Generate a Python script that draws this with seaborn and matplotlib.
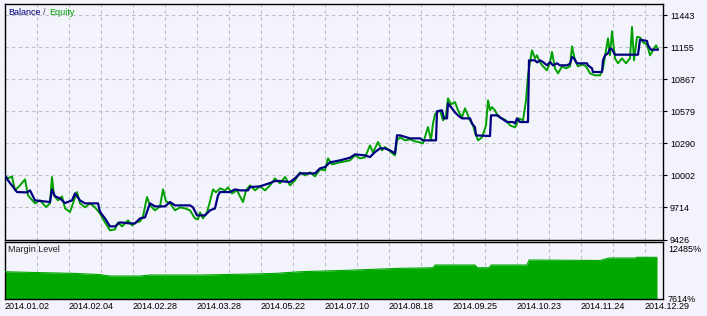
import matplotlib
matplotlib.use("Agg")
import matplotlib.pyplot as plt
import seaborn as sns
import pandas as pd

# ---------------- data ----------------
bal_trade = [0, 1.5, 6, 11, 12.5, 15, 22.5, 23.5, 25, 27.5, 30, 33.5, 35, 37.5, 40, 46.5, 47.5, 50,
             52.5, 55, 57.5, 62.5, 65, 67.5, 70, 72.5, 75, 80, 82.5, 85, 92.5, 94, 96, 100, 102.5, 105,
             106.5, 107.5, 112.5, 115, 117.5, 121.5, 122.5, 127.5, 132.5, 135, 137.5, 142.5, 145, 147.5,
             155, 157.5, 160, 162.5, 167.5, 172.5, 175, 180, 182.5, 185, 187.5, 190, 192.5, 195, 196,
             197.5, 202.5, 207.5, 209, 215.5, 216, 218.5, 219.5, 221, 221.5, 223.5, 225, 226.5, 228.5,
             232.5, 233.5, 235, 235.5, 242.5, 243, 246.5, 247.5, 249, 251, 254, 255, 256, 257.5, 261.5,
             262, 265, 266, 267.5, 269, 271, 272.5, 274, 276, 277.5, 281, 282.5, 283.5, 284.5, 286, 291,
             291.5, 293.5, 294, 298.5, 299, 300, 301.5, 302.5, 303.5, 305, 316.5, 317.5, 321, 321.5, 323,
             326.5]
bal_value = [10000, 9958, 9853, 9850, 9868, 9778, 9763, 9877, 9814, 9796, 9754, 9778, 9841, 9778, 9751,
             9751, 9673, 9616, 9544, 9544, 9580, 9571, 9571, 9616, 9625, 9751, 9724, 9724, 9763, 9733,
             9733, 9715, 9643, 9643, 9688, 9706, 9823, 9853, 9853, 9877, 9868, 9868, 9898, 9904, 9934,
             9952, 9952, 9943, 9976, 10021, 10021, 10066, 10078, 10120, 10138, 10162, 10192, 10183,
             10168, 10213, 10246, 10246, 10228, 10201, 10363, 10363, 10336, 10336, 10318, 10318, 10579,
             10588, 10516, 10516, 10651, 10606, 10570, 10543, 10516, 10516, 10471, 10435, 10363, 10357,
             10543, 10543, 10525, 10507, 10483, 10483, 10471, 10516, 10483, 10483, 11038, 11038, 11020,
             11038, 11023, 10993, 11023, 10993, 11011, 10993, 10993, 11008, 11068, 11056, 11011, 11011,
             10993, 10966, 10933, 10933, 11038, 11083, 11101, 11146, 11137, 11089, 11089, 11224, 11212,
             11173, 11134, 11134]

eq_trade = [0, 1.5, 3.5, 5, 7.5, 10, 11.5, 15, 17.5, 20.5, 22.5, 23.5, 24.5, 26.5, 28.5, 30, 32.5, 34.5,
            36, 37.5, 40, 42.5, 45, 47.5, 50, 52.5, 55, 56.5, 58.5, 61.5, 63.5, 65.5, 67.5, 69, 71, 72.5,
            75, 77.5, 79, 80.5, 82.5, 85, 87.5, 90, 92.5, 95, 96.5, 97.5, 99, 101, 102.5, 104, 105.5,
            107.5, 110, 111.5, 113.5, 116, 117.5, 119, 120.5, 122.5, 125, 127.5, 130, 132.5, 135, 137.5,
            140, 142.5, 145, 147.5, 150, 152.5, 155, 157.5, 160, 161.5, 163.5, 167.5, 170, 172.5, 175,
            177.5, 180, 182.5, 184, 186.5, 188.5, 190, 192.5, 195, 196, 197.5, 200, 202.5, 205, 207.5,
            209, 211.5, 213, 214, 215, 216, 217.5, 219, 220.5, 221.5, 223, 225, 226.5, 228.5, 230, 231.5,
            232.5, 234, 235, 236.5, 238.5, 240.5, 241.5, 242.5, 243.5, 245, 246.5, 248.5, 250.5, 252.5,
            255, 257, 259, 260.5, 261.5, 262.5, 263.5, 265, 266, 267.5, 269, 271, 272.5, 273.5, 275,
            276.5, 278.5, 280.5, 282.5, 283.5, 285, 286.5, 288.5, 290.5, 292.5, 295, 297.5, 299, 300.5,
            301.5, 302.5, 303.5, 305, 306.5, 308.5, 310.5, 312.5, 313.5, 314.5, 316, 317.5, 319, 321,
            322.5, 324, 325.5, 326.5]
eq_value = [10000, 9976, 9994, 9868, 9913, 9967, 9823, 9751, 9778, 9718, 9751, 9988, 9823, 9778, 9814,
            9706, 9673, 9778, 9853, 9751, 9715, 9751, 9715, 9661, 9580, 9508, 9517, 9580, 9544, 9598,
            9553, 9580, 9589, 9634, 9808, 9733, 9688, 9724, 9877, 9769, 9751, 9688, 9715, 9706, 9688,
            9616, 9607, 9670, 9616, 9670, 9769, 9877, 9850, 9886, 9868, 9895, 9841, 9868, 9814, 9763,
            9868, 9913, 9868, 9904, 9868, 9913, 9976, 9931, 9988, 9913, 9958, 10030, 10003, 10030, 9994,
            10057, 10048, 10156, 10102, 10120, 10129, 10138, 10183, 10156, 10165, 10273, 10210, 10303,
            10228, 10258, 10219, 10183, 10318, 10345, 10318, 10327, 10309, 10300, 10291, 10438, 10318,
            10471, 10552, 10570, 10588, 10498, 10543, 10696, 10642, 10663, 10588, 10525, 10606, 10543,
            10498, 10453, 10390, 10318, 10345, 10453, 10678, 10588, 10618, 10588, 10534, 10516, 10498,
            10453, 10435, 10516, 10498, 10678, 10903, 11020, 11128, 11056, 11083, 11020, 10984, 10948,
            11020, 11113, 10966, 10921, 10984, 10966, 10984, 11164, 11038, 10984, 11002, 10984, 10921,
            10903, 10903, 10966, 11128, 11236, 11083, 11299, 11056, 11011, 11056, 11011, 11056, 11338,
            11038, 11248, 11245, 11200, 11182, 11083, 11128, 11173, 11137]

margin_trade = [0, 10, 20, 35, 47.5, 52.5, 67.5, 72.5, 97.5, 115, 135, 147.5, 170, 197.5, 210, 214,
                215, 235, 236, 242, 243, 261, 262, 297.5, 302, 315, 316, 326]
margin_value = [9947, 9900, 9860, 9800, 9700, 9579, 9579, 9665, 9665, 9720, 9800, 9947, 10060, 10237,
                10270, 10290, 10519, 10519, 10289, 10289, 10519, 10519, 10947, 10904, 11118, 11118,
                11177, 11177]

equity_ticks = [9426, 9714, 10002, 10290, 10579, 10867, 11155, 11443]
margin_ticks = [7614, 12485]
date_positions = [0, 32, 64, 96, 128, 160, 192, 224, 256, 288, 320]
date_labels = ["2014.01.02", "2014.02.04", "2014.02.28", "2014.03.28", "2014.05.22", "2014.07.10",
               "2014.08.18", "2014.09.25", "2014.10.23", "2014.11.24", "2014.12.29"]

# ---------------- style ----------------
sns.set_theme(style="white")
plt.rcParams["font.family"] = ["Liberation Sans", "DejaVu Sans"]
BG = "#F3F3FC"
NAVY = "#000080"
GREEN = "#00A000"
GRID = "#BDBDC8"
FS = 6.5

W, H = 707, 316
fig = plt.figure(figsize=(W / 100, H / 100), dpi=100, facecolor=BG)

left = 5 / W
width = 658 / W
ax = fig.add_axes([left, (H - 239.5) / H, width, 235.5 / H])
axm = fig.add_axes([left, (H - 299) / H, width, 57 / H])

xmax = 329
grid_x = list(range(0, 321, 16))

for a in (ax, axm):
    a.set_facecolor(BG)
    for s in a.spines.values():
        s.set_color("black")
        s.set_linewidth(1.0)
    a.set_xlim(0, xmax)
    a.set_axisbelow(True)
    for gx in grid_x:
        a.axvline(gx, color=GRID, lw=0.8, ls=(0, (3, 3)), zorder=0)

# main panel
bal_df = pd.DataFrame({"trade": bal_trade, "value": bal_value})
eq_df = pd.DataFrame({"trade": eq_trade, "value": eq_value})
sns.lineplot(data=eq_df, x="trade", y="value", ax=ax, color=GREEN, lw=1.4,
             estimator=None, sort=False, zorder=3)
sns.lineplot(data=bal_df, x="trade", y="value", ax=ax, color=NAVY, lw=1.6,
             estimator=None, sort=False, zorder=4)
ax.set_ylim(9426, 11545)
for gy in equity_ticks[1:]:
    ax.axhline(gy, color=GRID, lw=0.8, ls=(0, (3, 3)), zorder=0)
ax.yaxis.tick_right()
ax.set_yticks(equity_ticks)
ax.set_yticklabels([str(v) for v in equity_ticks], fontsize=FS, color="black")
ax.tick_params(axis="y", which="both", right=True, left=False, length=3, width=0.8,
               pad=2, colors="black")
ax.set_xticks([])
ax.set_xlabel("")
ax.set_ylabel("")

ax.text(3 / 658, 0.962, "Balance", transform=ax.transAxes, color=NAVY, fontsize=FS,
        va="center", ha="left")
ax.text(38 / 658, 0.962, "/", transform=ax.transAxes, color="#404040", fontsize=FS,
        va="center", ha="left")
ax.text(44 / 658, 0.962, "Equity", transform=ax.transAxes, color=GREEN, fontsize=FS,
        va="center", ha="left")

# margin panel
m_df = pd.DataFrame({"trade": margin_trade, "value": margin_value})
axm.fill_between(m_df["trade"], 7614, m_df["value"], color="#00A800", lw=0, zorder=2)
sns.lineplot(data=m_df, x="trade", y="value", ax=axm, color="#00A800", lw=0.8,
             estimator=None, sort=False, zorder=3)
axm.set_ylim(7614, 12485)
axm.set_yticks([])
lab_x = 1 + 5 / 658
axm.text(lab_x, 1 - 3.5 / 57, f"{margin_ticks[1]}%", transform=axm.transAxes,
         fontsize=FS, color="black", va="top", ha="left")
axm.text(lab_x, 0.0, f"{margin_ticks[0]}%", transform=axm.transAxes,
         fontsize=FS, color="black", va="center", ha="left")
axm.set_xticks(date_positions)
xl = axm.set_xticklabels(date_labels, fontsize=FS, color="black")
for t in xl:
    t.set_ha("left")
axm.tick_params(axis="x", length=0, pad=2.5, colors="black")
axm.set_xlabel("")
axm.set_ylabel("")
axm.text(3 / 658, 0.86, "Margin Level", transform=axm.transAxes, color="#202020",
         fontsize=FS, va="center", ha="left")

fig.savefig("out.png", dpi=100, facecolor=BG)
